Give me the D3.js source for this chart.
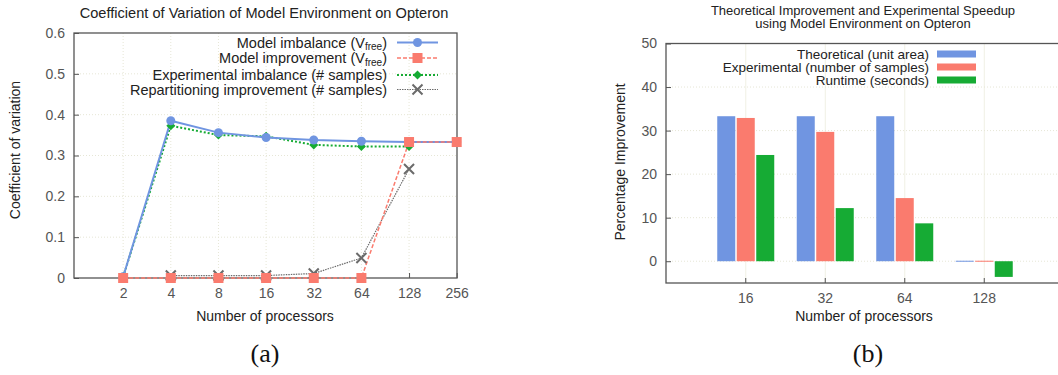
<!DOCTYPE html>
<html>
<head>
<meta charset="utf-8">
<script src="https://cdn.jsdelivr.net/npm/d3@7/dist/d3.min.js"></script>
<style>
  html, body { margin: 0; padding: 0; background: #fff; }
  svg { display: block; font-family: "Liberation Sans", Arial, sans-serif; }
</style>
</head>
<body>
<svg id="fig" width="1058" height="375"></svg>
<script>
// ---- Panel (a): coefficient of variation vs. processors ----
const procsA = [2, 4, 8, 16, 32, 64, 128, 256];
const yTicksA = [0, 0.1, 0.2, 0.3, 0.4, 0.5, 0.6];
const modelImbalance = [0.003, 0.385, 0.356, 0.344, 0.338, 0.335, 0.333, 0.333];
const modelImprovement = [0, 0, 0, 0, 0, 0, 0.333, 0.333];
const expImbalance = [0.003, 0.373, 0.350, 0.347, 0.326, 0.322, 0.322];
const repartProcs = [4, 8, 16, 32, 64, 128];
const repartImprovement = [0.006, 0.006, 0.006, 0.011, 0.049, 0.267];

// ---- Panel (b): percentage improvement per processor count ----
const procsB = ["16", "32", "64", "128"];
const yTicksB = [0, 10, 20, 30, 40, 50];
const theoretical = [33.3, 33.3, 33.3, 0];
const experimental = [32.9, 29.7, 14.5, 0];
const runtime = [24.4, 12.2, 8.7, -3.6];

const C = {
  blue: "#7095e1",
  red: "#fa7b6e",
  green: "#16ab34",
  gray: "#6b6b6b",
  axis: "#555",
  grid: "#e6e6d6",
  text: "#222",
  tick: "#555"
};

const svg = d3.select("#fig");

// ================= Panel (a) =================
const A = { left: 74, right: 457, top: 33, bottom: 278 };
const xA = d3.scaleLog().base(2).domain([1, 256]).range([75.5, 456.7]);
const yA = d3.scaleLinear().domain([0, 0.6]).range([A.bottom, A.top]);
const gA = svg.append("g");

// grid
gA.selectAll("line.vg").data(procsA.slice(0, -1)).join("line")
  .attr("x1", d => xA(d)).attr("x2", d => xA(d))
  .attr("y1", A.top).attr("y2", A.bottom)
  .attr("stroke", C.grid).attr("stroke-dasharray", "1,2").attr("stroke-width", 1);
gA.selectAll("line.hg").data(yTicksA.slice(1, -1)).join("line")
  .attr("x1", A.left).attr("x2", A.right)
  .attr("y1", d => yA(d)).attr("y2", d => yA(d))
  .attr("stroke", C.grid).attr("stroke-dasharray", "1,2").attr("stroke-width", 1);

// axes via d3 axis generators, ticks drawn inward
const axAy = d3.axisLeft(yA).tickValues(yTicksA).tickSize(-5).tickPadding(9)
  .tickFormat(d => d === 0 ? "0" : d3.format(".1f")(d));
gA.append("g").attr("transform", `translate(${A.left},0)`).call(axAy)
  .call(g => g.select(".domain").remove())
  .call(g => g.selectAll("line").attr("stroke", C.axis))
  .call(g => g.selectAll("text").attr("font-size", 14).attr("fill", C.tick).attr("font-family", "Liberation Sans, Arial, sans-serif"));
const axAx = d3.axisBottom(xA).tickValues(procsA).tickSize(-5).tickPadding(10)
  .tickFormat(d3.format("d"));
gA.append("g").attr("transform", `translate(0,${A.bottom})`).call(axAx)
  .call(g => g.select(".domain").remove())
  .call(g => g.selectAll("line").attr("stroke", C.axis))
  .call(g => g.selectAll("text").attr("font-size", 14).attr("fill", C.tick).attr("font-family", "Liberation Sans, Arial, sans-serif"));

// border box
gA.append("rect").attr("x", A.left).attr("y", A.top)
  .attr("width", A.right - A.left).attr("height", A.bottom - A.top)
  .attr("fill", "none").attr("stroke", C.axis).attr("stroke-width", 1.3);

// titles
gA.append("text").attr("x", 264).attr("y", 18).attr("text-anchor", "middle")
  .attr("font-size", 14.6).attr("fill", C.text)
  .text("Coefficient of Variation of Model Environment on Opteron");
gA.append("text").attr("x", 265).attr("y", 321).attr("text-anchor", "middle")
  .attr("font-size", 14).attr("fill", C.text).text("Number of processors");
gA.append("text").attr("transform", "translate(20,150) rotate(-90)")
  .attr("text-anchor", "middle").attr("font-size", 14).attr("fill", C.text)
  .text("Coefficient of variation");

const lineA = d3.line().x(d => xA(d[0])).y(d => yA(d[1]));
const zipA = (xs, ys) => ys.map((v, i) => [xs[i], v]);

const seriesA = [
  { name: "Model imbalance (V", sub: "free", tail: ")", data: zipA(procsA, modelImbalance), color: C.blue, width: 2, dash: null, marker: "circle" },
  { name: "Model improvement (V", sub: "free", tail: ")", data: zipA(procsA, modelImprovement), color: C.red, width: 1.5, dash: "4,2", marker: "square" },
  { name: "Experimental imbalance (# samples)", data: zipA(procsA, expImbalance), color: C.green, width: 2, dash: "2,2", marker: "diamond" },
  { name: "Repartitioning improvement (# samples)", data: zipA(repartProcs, repartImprovement), color: C.gray, width: 1.2, dash: "1.5,1", marker: "cross" }
];

function drawMarker(g, type, x, y, color) {
  if (type === "circle") {
    g.append("circle").attr("cx", x).attr("cy", y).attr("r", 4.5).attr("fill", color);
  } else if (type === "square") {
    g.append("rect").attr("x", x - 5).attr("y", y - 5).attr("width", 10).attr("height", 10).attr("fill", color);
  } else if (type === "diamond") {
    g.append("path").attr("d", `M${x},${y - 4.5}L${x + 4.5},${y}L${x},${y + 4.5}L${x - 4.5},${y}Z`).attr("fill", color);
  } else if (type === "cross") {
    g.append("path").attr("d", `M${x - 5},${y - 5}L${x + 5},${y + 5}M${x - 5},${y + 5}L${x + 5},${y - 5}`)
      .attr("stroke", color).attr("stroke-width", 2).attr("fill", "none");
  }
}

// legend
const legA = gA.append("g");
const legRowsA = [42.5, 58, 75, 89.5];
seriesA.forEach((s, i) => {
  const y = legRowsA[i];
  const t = legA.append("text").attr("x", 387).attr("y", y + 5).attr("text-anchor", "end")
    .attr("font-size", 14.5).attr("fill", C.text);
  if (s.sub) {
    t.append("tspan").text(s.name);
    t.append("tspan").attr("dy", 2.5).attr("font-size", 10).text(s.sub);
    t.append("tspan").attr("dy", -2.5).text(s.tail);
  } else {
    t.text(s.name);
  }
  legA.append("line").attr("x1", 397).attr("x2", 438).attr("y1", y).attr("y2", y)
    .attr("stroke", s.color).attr("stroke-width", s.width)
    .attr("stroke-dasharray", s.dash);
  drawMarker(legA, s.marker, 417.5, y, s.color);
});

// series lines and markers (draw order: gray, green, blue, red on top)
const order = [3, 2, 0, 1];
order.forEach(i => {
  const s = seriesA[i];
  gA.append("path").datum(s.data).attr("d", lineA)
    .attr("fill", "none").attr("stroke", s.color).attr("stroke-width", s.width)
    .attr("stroke-dasharray", s.dash);
});
order.forEach(i => {
  const s = seriesA[i];
  const mg = gA.append("g");
  s.data.forEach(d => drawMarker(mg, s.marker, xA(d[0]), yA(d[1]), s.color));
});

// ================= Panel (b) =================
const B = { left: 666, right: 1064, top: 43.5, bottom: 283 };
const xB = d3.scaleBand().domain(procsB).range([706, 1024]).paddingInner(0).paddingOuter(0);
const yB = d3.scaleLinear().domain([-5, 50]).range([B.bottom, B.top]);
const gB = svg.append("g");

// grid
gB.selectAll("line.vg").data(procsB).join("line")
  .attr("x1", d => xB(d) + xB.bandwidth() / 2).attr("x2", d => xB(d) + xB.bandwidth() / 2)
  .attr("y1", B.top).attr("y2", B.bottom)
  .attr("stroke", "#f0f0e4").attr("stroke-width", 1);
gB.selectAll("line.hg").data(yTicksB.slice(0, -1)).join("line")
  .attr("x1", B.left).attr("x2", B.right)
  .attr("y1", d => yB(d)).attr("y2", d => yB(d))
  .attr("stroke", C.grid).attr("stroke-dasharray", "1,2").attr("stroke-width", 1);

const axBy = d3.axisLeft(yB).tickValues(yTicksB).tickSize(-5).tickPadding(9);
gB.append("g").attr("transform", `translate(${B.left},0)`).call(axBy)
  .call(g => g.select(".domain").remove())
  .call(g => g.selectAll("line").attr("stroke", C.axis))
  .call(g => g.selectAll("text").attr("font-size", 14).attr("fill", C.tick).attr("font-family", "Liberation Sans, Arial, sans-serif"));
const axBx = d3.axisBottom(xB).tickSize(-5).tickPadding(10);
gB.append("g").attr("transform", `translate(0,${B.bottom})`).call(axBx)
  .call(g => g.select(".domain").remove())
  .call(g => g.selectAll("line").attr("stroke", C.axis))
  .call(g => g.selectAll("text").attr("font-size", 14).attr("fill", C.tick).attr("font-family", "Liberation Sans, Arial, sans-serif"));

gB.append("rect").attr("x", B.left).attr("y", B.top)
  .attr("width", B.right - B.left).attr("height", B.bottom - B.top)
  .attr("fill", "none").attr("stroke", C.axis).attr("stroke-width", 1.3);

gB.append("text").attr("x", 863).attr("y", 15).attr("text-anchor", "middle")
  .attr("font-size", 13).attr("fill", C.text)
  .text("Theoretical Improvement and Experimental Speedup");
gB.append("text").attr("x", 863).attr("y", 28).attr("text-anchor", "middle")
  .attr("font-size", 13).attr("fill", C.text)
  .text("using Model Environment on Opteron");
gB.append("text").attr("x", 864).attr("y", 321).attr("text-anchor", "middle")
  .attr("font-size", 14).attr("fill", C.text).text("Number of processors");
gB.append("text").attr("transform", "translate(625,162) rotate(-90)")
  .attr("text-anchor", "middle").attr("font-size", 14).attr("fill", C.text)
  .text("Percentage Improvement");

const seriesB = [
  { name: "Theoretical (unit area)", values: theoretical, color: C.blue, offset: -19.5 },
  { name: "Experimental (number of samples)", values: experimental, color: C.red, offset: 0 },
  { name: "Runtime (seconds)", values: runtime, color: C.green, offset: 19.5 }
];
const barW = 18;
seriesB.forEach(s => {
  gB.append("g").selectAll("rect").data(s.values.map((v, i) => ({ v, c: procsB[i] }))).join("rect")
    .attr("x", d => xB(d.c) + xB.bandwidth() / 2 + s.offset - barW / 2)
    .attr("width", barW)
    .attr("y", d => Math.min(yB(d.v), yB(0)) - (d.v === 0 ? 0.5 : 0))
    .attr("height", d => Math.max(1, Math.abs(yB(d.v) - yB(0))))
    .attr("fill", s.color);
});

const legRowsB = [54, 67, 80];
seriesB.forEach((s, i) => {
  const y = legRowsB[i];
  gB.append("text").attr("x", 929).attr("y", y + 5).attr("text-anchor", "end")
    .attr("font-size", 13.5).attr("fill", C.text).text(s.name);
  gB.append("rect").attr("x", 937).attr("y", y - 3.5).attr("width", 39).attr("height", 7)
    .attr("fill", s.color);
});

// sub-figure captions
svg.append("text").attr("x", 265).attr("y", 362).attr("text-anchor", "middle")
  .attr("font-family", "Liberation Serif, Times New Roman, serif").attr("font-size", 26)
  .attr("fill", "#111").text("(a)");
svg.append("text").attr("x", 868).attr("y", 362).attr("text-anchor", "middle")
  .attr("font-family", "Liberation Serif, Times New Roman, serif").attr("font-size", 26)
  .attr("fill", "#111").text("(b)");
</script>
</body>
</html>
